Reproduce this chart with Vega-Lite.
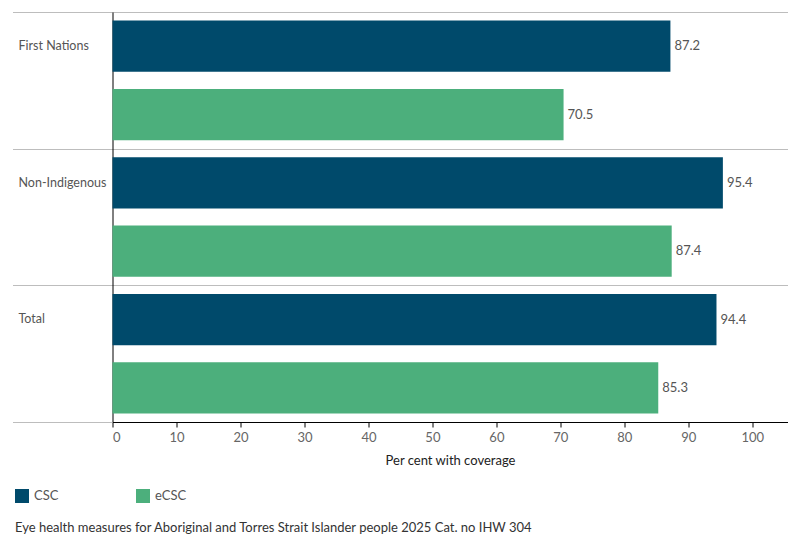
{
  "$schema": "https://vega.github.io/schema/vega-lite/v6.json",
  "width": 675,
  "height": 410,
  "autosize": {"type": "none"},
  "padding": {"left": 112.5, "top": 12, "right": 12.5, "bottom": 128},
  "title": {
    "text": "Eye health measures for Aboriginal and Torres Strait Islander people 2025 Cat. no IHW 304",
    "orient": "bottom",
    "anchor": "start",
    "frame": "group",
    "dx": -97.5,
    "offset": 19,
    "fontSize": 13,
    "fontWeight": "normal",
    "color": "#333333"
  },
  "data": {
    "values": [
      {"group": "First Nations", "card": "CSC", "value": 87.2},
      {"group": "First Nations", "card": "eCSC", "value": 70.5},
      {"group": "Non-Indigenous", "card": "CSC", "value": 95.4},
      {"group": "Non-Indigenous", "card": "eCSC", "value": 87.4},
      {"group": "Total", "card": "CSC", "value": 94.4},
      {"group": "Total", "card": "eCSC", "value": 85.3}
    ]
  },
  "encoding": {
    "y": {
      "field": "group",
      "type": "nominal",
      "sort": ["First Nations", "Non-Indigenous", "Total"],
      "scale": {"paddingInner": 0, "paddingOuter": 0},
      "axis": {
        "title": null,
        "labelAlign": "left",
        "labelBaseline": "middle",
        "labelOffset": -35,
        "labelPadding": -5.5,
        "labelFontSize": 12.5,
        "labelColor": "#555555",
        "tickSize": 100,
        "tickBand": "extent",
        "tickColor": "#bdbdbd",
        "grid": true,
        "gridColor": "#bdbdbd",
        "domainColor": "#000000"
      }
    },
    "yOffset": {
      "field": "card",
      "type": "nominal",
      "sort": ["CSC", "eCSC"],
      "scale": {"paddingInner": 0.25, "paddingOuter": 0.125}
    },
    "x": {
      "field": "value",
      "type": "quantitative",
      "scale": {"domain": [0, 105.5], "nice": false},
      "axis": {
        "values": [0, 10, 20, 30, 40, 50, 60, 70, 80, 90, 100],
        "title": "Per cent with coverage",
        "titleFontSize": 13,
        "titleFontWeight": "normal",
        "titleColor": "#222222",
        "titlePadding": 10,
        "grid": false,
        "domainColor": "#000000",
        "tickColor": "#000000",
        "tickSize": 5,
        "labelPadding": 4,
        "labelFontSize": 13,
        "labelColor": "#666666"
      }
    }
  },
  "layer": [
    {
      "mark": {"type": "bar"},
      "encoding": {
        "color": {
          "field": "card",
          "type": "nominal",
          "scale": {"domain": ["CSC", "eCSC"], "range": ["#004a6b", "#4caf7c"]},
          "legend": {
            "orient": "none",
            "legendX": -97.5,
            "legendY": 477,
            "direction": "horizontal",
            "title": null,
            "padding": 0,
            "symbolType": "square",
            "symbolSize": 196,
            "symbolStrokeWidth": 0,
            "labelFontSize": 13,
            "labelColor": "#555555",
            "labelOffset": 5,
            "columnPadding": 77
          }
        }
      }
    },
    {
      "mark": {"type": "text", "align": "left", "baseline": "middle", "dx": 4, "fontSize": 13, "color": "#555555"},
      "encoding": {"text": {"field": "value", "type": "quantitative", "format": ".1f"}}
    }
  ],
  "config": {"font": "Lato", "view": {"stroke": null}}
}
